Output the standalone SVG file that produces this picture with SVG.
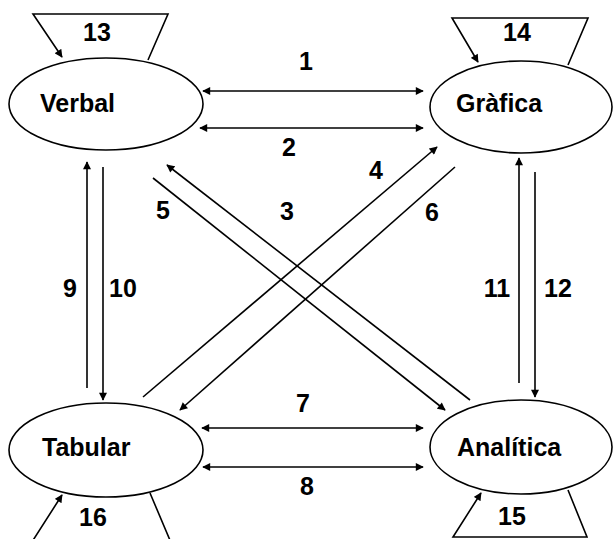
<svg xmlns="http://www.w3.org/2000/svg" width="615" height="539" viewBox="0 0 615 539">
  <style>
    .node ellipse { fill: #fff; stroke: #000; stroke-width: 1.6; }
    .loop { fill: none; stroke: #000; stroke-width: 1.6; }
    .edge { fill: none; stroke: #000; stroke-width: 1.6; }
    text { font-family: "Liberation Sans", Arial, sans-serif; font-weight: bold; fill: #000; }
    .name { font-size: 25px; }
    .num { font-size: 25px; text-anchor: middle; }
  </style>
  <defs>
    <marker id="head" viewBox="0 0 10 10" refX="9" refY="5" markerWidth="9" markerHeight="8" markerUnits="userSpaceOnUse" orient="auto-start-reverse">
      <path d="M0,0 L10,5 L0,10 Z" fill="#000"/>
    </marker>
  </defs>
  <rect width="615" height="539" fill="#fff"/>

  <!-- self loops (trapezoids) -->
  <g id="loop-13">
    <path class="loop" d="M148,60 L168,14 L33,14 L62,57" marker-end="url(#head)"/>
    <text class="num" x="97" y="41">13</text>
  </g>
  <g id="loop-14">
    <path class="loop" d="M568,65 L588,18 L452,18 L478,62" marker-end="url(#head)"/>
    <text class="num" x="517" y="41">14</text>
  </g>
  <g id="loop-15">
    <path class="loop" d="M568,490 L587,537 L453,537 L481,493" marker-end="url(#head)"/>
    <text class="num" x="512" y="525">15</text>
  </g>
  <g id="loop-16">
    <path class="loop" d="M150,493 L172,545 L30,545 L62,495" marker-end="url(#head)"/>
    <text class="num" x="93" y="526">16</text>
  </g>

  <!-- connectors -->
  <g id="connectors">
    <line class="edge" x1="203" y1="91" x2="423" y2="91" marker-start="url(#head)" marker-end="url(#head)"/>
    <line class="edge" x1="200" y1="128" x2="423" y2="128" marker-start="url(#head)" marker-end="url(#head)"/>
    <line class="edge" x1="202" y1="428" x2="423" y2="428" marker-start="url(#head)" marker-end="url(#head)"/>
    <line class="edge" x1="203" y1="467" x2="423" y2="467" marker-start="url(#head)" marker-end="url(#head)"/>
    <line class="edge" x1="87" y1="388" x2="87" y2="162" marker-end="url(#head)"/>
    <line class="edge" x1="103" y1="167" x2="103" y2="400" marker-end="url(#head)"/>
    <line class="edge" x1="519" y1="383" x2="519" y2="158" marker-end="url(#head)"/>
    <line class="edge" x1="535" y1="172" x2="535" y2="397" marker-end="url(#head)"/>
    <line class="edge" x1="470" y1="400" x2="167" y2="165" marker-end="url(#head)"/>
    <line class="edge" x1="153" y1="178" x2="445" y2="410" marker-end="url(#head)"/>
    <line class="edge" x1="143" y1="397" x2="437" y2="147" marker-end="url(#head)"/>
    <line class="edge" x1="455" y1="167" x2="180" y2="410" marker-end="url(#head)"/>
    <text class="num" x="306" y="70">1</text>
    <text class="num" x="289" y="156">2</text>
    <text class="num" x="287" y="220">3</text>
    <text class="num" x="376" y="179">4</text>
    <text class="num" x="163" y="219">5</text>
    <text class="num" x="432" y="221">6</text>
    <text class="num" x="303" y="412">7</text>
    <text class="num" x="307" y="495">8</text>
    <text class="num" x="70" y="297">9</text>
    <text class="num" x="123" y="297">10</text>
    <text class="num" x="497" y="297">11</text>
    <text class="num" x="558" y="297">12</text>
  </g>

  <!-- nodes -->
  <g id="verbal" class="node">
    <ellipse cx="106" cy="104" rx="97" ry="46"/>
    <text class="name" x="40" y="112">Verbal</text>
  </g>
  <g id="grafica" class="node">
    <ellipse cx="521" cy="107" rx="91" ry="46"/>
    <text class="name" x="456" y="112">Gràfica</text>
  </g>
  <g id="tabular" class="node">
    <ellipse cx="106" cy="450" rx="97" ry="47"/>
    <text class="name" x="42" y="456">Tabular</text>
  </g>
  <g id="analitica" class="node">
    <ellipse cx="521" cy="447" rx="91" ry="47"/>
    <text class="name" x="457" y="456">Analítica</text>
  </g>
</svg>
